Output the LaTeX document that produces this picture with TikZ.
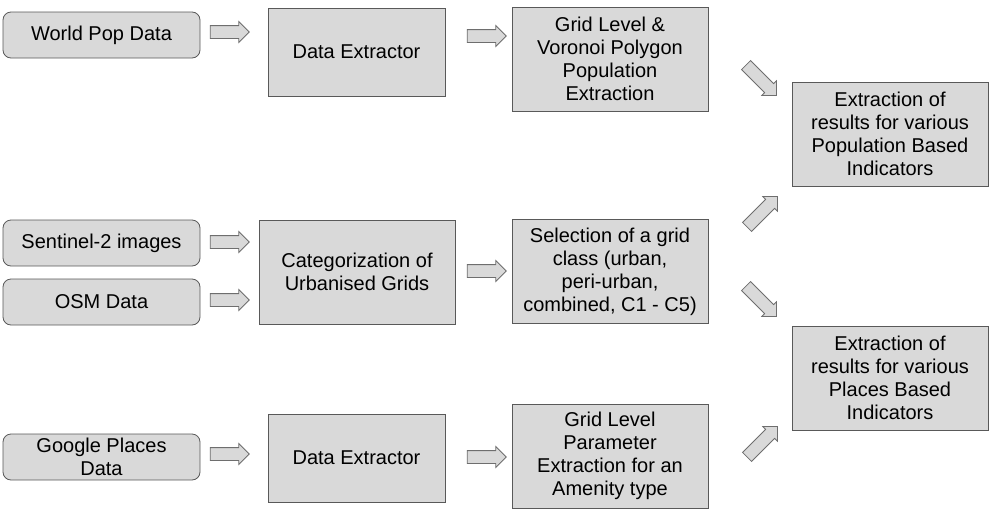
\documentclass[tikz,border=0pt]{standalone}
\usepackage{fontspec}
\setmainfont{Liberation Sans}
\usetikzlibrary{shapes.arrows}
\definecolor{boxfill}{HTML}{D9D9D9}
\definecolor{boxdraw}{HTML}{595959}
\definecolor{arrdraw}{HTML}{6E6E6E}
\begin{document}
\begin{tikzpicture}[x=1pt,y=-1pt,
  every node/.style={font=\fontsize{20}{23}\selectfont, align=center},
  srcbox/.style={draw=boxdraw, fill=boxfill, rounded corners=8pt, minimum width=197pt, minimum height=46pt, inner sep=2pt, line width=0.8pt},
  procbox/.style={draw=boxdraw, fill=boxfill, minimum width=196pt, minimum height=104pt, inner sep=2pt, line width=0.8pt},
  extbox/.style={draw=boxdraw, fill=boxfill, minimum width=177pt, minimum height=88pt, inner sep=2pt, line width=0.8pt},
  blockarrow/.style={shape=single arrow, draw=arrdraw, fill=boxfill, line width=0.8pt, inner sep=0pt, inner ysep=6pt, minimum height=39pt, single arrow head extend=4pt, single arrow tip angle=90},
]
\useasboundingbox (0,0) rectangle (994,517);
% sources
\node[srcbox] (wp) at (101.5,35) {World Pop Data};
\node[srcbox] (s2) at (101.5,243) {Sentinel-2 images};
\node[srcbox] (osm) at (101.5,302) {OSM Data};
\node[srcbox] (gp) at (101.5,457) {Google Places\\Data};
% processing
\node[extbox] (de1) at (356.5,52) {Data Extractor};
\node[procbox] (cat) at (357,272) {Categorization of\\Urbanised Grids};
\node[extbox] (de2) at (356.5,458) {Data Extractor};
\node[procbox] (gl) at (610,59) {Grid Level \&\\Voronoi Polygon\\Population\\Extraction};
\node[procbox] (sel) at (610,271.5) {Selection of a grid\\class (urban,\\peri-urban,\\combined, C1 - C5)};
\node[procbox] (glp) at (610,456) {Grid Level\\Parameter\\Extraction for an\\Amenity type};
\node[procbox] (popi) at (890,134) {Extraction of\\results for various\\Population Based\\Indicators};
\node[procbox] (plai) at (890,378) {Extraction of\\results for various\\Places Based\\Indicators};
% block arrows
\node[blockarrow] (a1) at (226.5,32) {};
\node[blockarrow] (a2) at (483.5,36) {};
\node[blockarrow] (a3) at (226.5,242) {};
\node[blockarrow] (a4) at (226.5,300) {};
\node[blockarrow] (a5) at (483.5,271) {};
\node[blockarrow] (a6) at (226.5,454) {};
\node[blockarrow] (a7) at (483.5,457) {};
\node[blockarrow, rotate=-45, minimum height=43pt] (d1) at (759,78) {};
\node[blockarrow, rotate=45, minimum height=43pt] (d2) at (760,214) {};
\node[blockarrow, rotate=-45, minimum height=43pt] (d3) at (759,299) {};
\node[blockarrow, rotate=45, minimum height=43pt] (d4) at (760,444) {};
\end{tikzpicture}
\end{document}
